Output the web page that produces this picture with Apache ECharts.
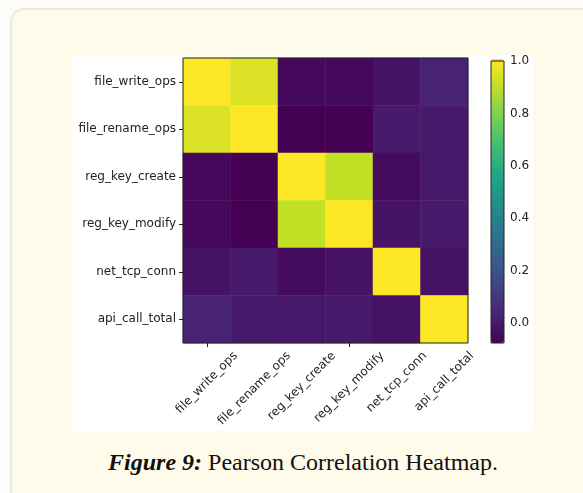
<!DOCTYPE html>
<html>
<head>
<meta charset="utf-8">
<style>
    html, body {
        margin: 0;
        padding: 0;
        width: 583px;
        height: 493px;
        overflow: hidden;
        background-color: #fcfcfa;
    }

    #card {
        position: absolute;
        left: 10px;
        top: 8px;
        width: 600px;
        height: 520px;
        box-sizing: border-box;
        background-color: #fffbea;
        border: 2px solid #eeebdd;
        border-radius: 14px;
    }

    #main {
        position: absolute;
        left: 72px;
        top: 55px;
        width: 461px;
        height: 376px;
        background-color: #fff;
    }

    #caption {
        position: absolute;
        left: 0;
        top: 449px;
        width: 606px;
        text-align: center;
        font-family: 'Liberation Serif', serif;
        font-size: 24px;
        color: #111;
    }
</style>
</head>
<body>
<div id="card"></div>
<div id="main"></div>
<div id="caption"><b><i>Figure 9:</i></b> Pearson Correlation Heatmap.</div>

<script src="https://cdn.jsdelivr.net/npm/echarts@6/dist/echarts.min.js"></script>
<script type="text/javascript">
    // feature names (x and y categories, same order)
    var features = ['file_write_ops', 'file_rename_ops', 'reg_key_create', 'reg_key_modify', 'net_tcp_conn', 'api_call_total'];

    // correlation matrix, one row per feature
    var rowFileWrite  = [1.00, 0.945, -0.05, -0.05, -0.02, 0.03];
    var rowFileRename = [0.945, 1.00, -0.076, -0.076, 0.00, 0.00];
    var rowRegCreate  = [-0.05, -0.076, 1.00, 0.90, -0.045, -0.005];
    var rowRegModify  = [-0.05, -0.076, 0.90, 1.00, -0.02, 0.00];
    var rowNetTcp     = [-0.02, 0.00, -0.045, -0.02, 1.00, -0.025];
    var rowApiCall    = [0.03, 0.00, -0.005, 0.00, -0.025, 1.00];
    var corrRows = [rowFileWrite, rowFileRename, rowRegCreate, rowRegModify, rowNetTcp, rowApiCall];

    // colorbar range and tick labels
    var colorMin = -0.076;
    var colorMax = 1.0;
    var colorbarTicks = [0.0, 0.2, 0.4, 0.6, 0.8, 1.0];

    var viridis = ['#440154', '#482475', '#414487', '#355f8d', '#2a788e', '#21918c',
        '#22a884', '#44bf70', '#7ad151', '#bddf26', '#fde725'];

    var heatData = [];
    for (var i = 0; i < corrRows.length; i++) {
        for (var j = 0; j < corrRows[i].length; j++) {
            heatData.push([j, i, corrRows[i][j]]);
        }
    }

    var gridLeft = 111, gridTop = 3, gridSize = 285;
    var labelFont = '12px "DejaVu Sans"';
    var txt = { color: '#222', fontSize: 12, fontFamily: 'DejaVu Sans' };

    var myChart = echarts.init(document.getElementById('main'), null, { renderer: 'canvas' });

    var option = {
        animation: false,
        backgroundColor: '#fff',
        grid: [
            {
                left: gridLeft, top: gridTop, width: gridSize, height: gridSize,
                show: true, z: 5, backgroundColor: 'transparent',
                borderColor: '#222', borderWidth: 1
            },
            {
                left: 419, top: 4, width: 13, height: 284,
                show: true, z: 5, backgroundColor: 'transparent',
                borderColor: '#222', borderWidth: 1
            }
        ],
        xAxis: [
            {
                type: 'category',
                gridIndex: 0,
                data: features,
                position: 'bottom',
                axisLine: { show: false },
                axisTick: { show: true, alignWithLabel: true, length: 4, lineStyle: { color: '#222' } },
                // labels are drawn below as rotated, centred texts (matplotlib style)
                axisLabel: { show: false },
                splitLine: { show: false },
                splitArea: { show: false }
            },
            {
                type: 'value',
                gridIndex: 1,
                show: false
            }
        ],
        yAxis: [
            {
                type: 'category',
                gridIndex: 0,
                data: features,
                inverse: true,
                axisLine: { show: false },
                axisTick: { show: true, alignWithLabel: true, length: 4, lineStyle: { color: '#222' } },
                axisLabel: Object.assign({ interval: 0, margin: 7 }, txt),
                splitLine: { show: false },
                splitArea: { show: false }
            },
            {
                type: 'value',
                gridIndex: 1,
                position: 'right',
                min: colorMin,
                max: colorMax,
                axisLine: { show: false },
                axisTick: { show: true, length: 4, customValues: colorbarTicks, lineStyle: { color: '#222' } },
                axisLabel: Object.assign({
                    margin: 6,
                    customValues: colorbarTicks,
                    formatter: function (v) { return v.toFixed(1); }
                }, txt),
                splitLine: { show: false }
            }
        ],
        visualMap: {
            type: 'continuous',
            seriesIndex: 0,
            min: colorMin,
            max: colorMax,
            calculable: false,
            hoverLink: false,
            orient: 'vertical',
            left: 419,
            top: 4,
            padding: 0,
            itemWidth: 13,
            itemHeight: 284,
            inRange: { color: viridis }
        },
        series: [
            {
                type: 'heatmap',
                xAxisIndex: 0,
                yAxisIndex: 0,
                data: heatData,
                label: { show: false },
                emphasis: { disabled: true }
            }
        ]
    };

    myChart.setOption(option);

    // x tick labels: rotated 45deg with their bounding box centred under the tick
    var ctx = document.createElement('canvas').getContext('2d');
    ctx.font = labelFont;
    var axisBottom = gridTop + gridSize;
    var xLabels = features.map(function (name) {
        var px = myChart.convertToPixel({ xAxisIndex: 0 }, name);
        var w = ctx.measureText(name).width;
        var half = (w + 14) / (2 * Math.SQRT2);
        return {
            type: 'text',
            x: px,
            y: axisBottom + 6 + half,
            rotation: Math.PI / 4,
            style: {
                text: name,
                font: labelFont,
                fill: '#222',
                align: 'center',
                verticalAlign: 'middle',
                textAlign: 'center',
                textVerticalAlign: 'middle'
            }
        };
    });
    myChart.setOption({ graphic: xLabels });
</script>
</body>
</html>
